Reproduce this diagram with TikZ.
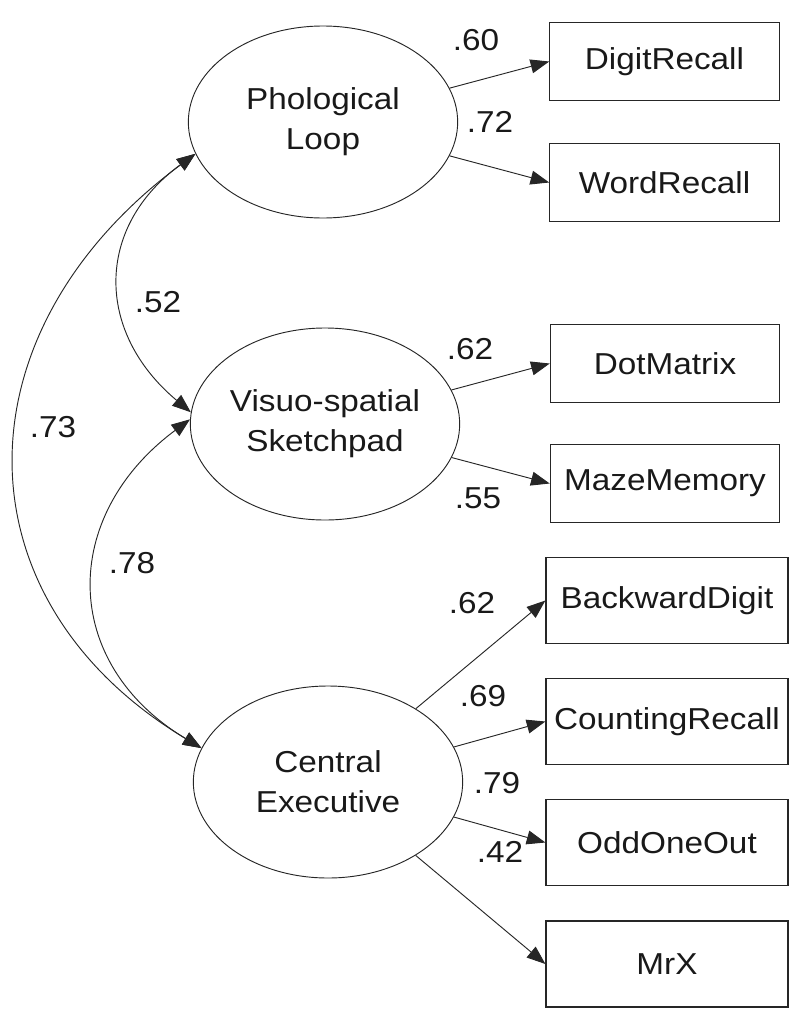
\documentclass[tikz,border=0pt]{standalone}
\usepackage{fontspec}
\setmainfont{Liberation Sans}[FakeStretch=1.1]
\usetikzlibrary{arrows.meta,shapes.geometric}
\begin{document}
\begin{tikzpicture}[x=0.75pt,y=-0.75pt,
  every node/.style={font=\fontsize{22.7pt}{30pt}\selectfont, text=black!90},
  latent/.style={draw=black!85, ellipse, line width=0.7pt, minimum width=202pt, minimum height=144pt, inner sep=0pt, align=center},
  obs/.style={draw=black!85, rectangle, line width=0.9pt, minimum width=172pt, minimum height=58.5pt, inner sep=0pt},
  obsb/.style={obs, minimum width=181.5pt, minimum height=64.5pt},
  load/.style={draw=black!85, line width=0.7pt, -{Triangle[length=14pt,width=10.5pt]}},
  cov/.style={draw=black!85, line width=0.7pt, {Triangle[length=14pt,width=10.5pt]}-{Triangle[length=14pt,width=10.5pt]}},
  lbl/.style={inner sep=0pt}
]
\useasboundingbox (0,0) rectangle (800,1021);

% latent variables
\node[latent] (PL) at (323,122) {Phological\\Loop};
\node[latent] (VS) at (325,424) {Visuo-spatial\\Sketchpad};
\node[latent] (CE) at (328,782) {Central\\Executive};

% observed variables
\node[obs] (DR) at (664.5,61.5) {DigitRecall};
\node[obs] (WR) at (664.5,182.5) {WordRecall};
\node[obs] (DM) at (665,363.5) {DotMatrix};
\node[obs] (MM) at (665,483.5) {MazeMemory};
\node[obsb] (BD) at (667,600.5) {BackwardDigit};
\node[obsb] (CR) at (667,721.5) {CountingRecall};
\node[obsb] (OO) at (667,842.5) {OddOneOut};
\node[obsb] (MX) at (667,964) {MrX};

% loadings
\draw[load] (PL) -- (DR.west);
\draw[load] (PL) -- (WR.west);
\draw[load] (VS) -- (DM.west);
\draw[load] (VS) -- (MM.west);
\draw[load] (CE) -- (BD.west);
\draw[load] (CE) -- (CR.west);
\draw[load] (CE) -- (OO.west);
\draw[load] (CE) -- (MX.west);

% covariances
\draw[cov] (PL.194) .. controls (95,227) and (95,332) .. (VS.175);
\draw[cov] (PL.194) .. controls (-45,332) and (-45,600) .. (CE.165);
\draw[cov] (VS.178) .. controls (60,516) and (60,663) .. (CE.165);

% labels
\node[lbl] (l60) at (476,40) {.60};
\node[lbl] (l72) at (490,122) {.72};
\node[lbl] (l52) at (158,302) {.52};
\node[lbl] (l62a) at (470,349) {.62};
\node[lbl] (l55) at (478,498) {.55};
\node[lbl] (l73) at (53,427) {.73};
\node[lbl] (l78) at (132,563) {.78};
\node[lbl] (l62b) at (472,603) {.62};
\node[lbl] (l69) at (483,696) {.69};
\node[lbl] (l79) at (497,783) {.79};
\node[lbl] (l42) at (500,852) {.42};
\end{tikzpicture}
\end{document}
